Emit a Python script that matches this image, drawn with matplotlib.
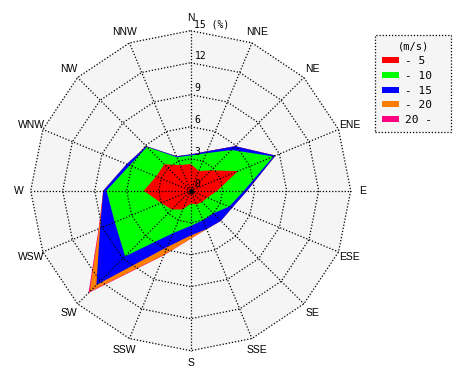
import matplotlib
matplotlib.use("Agg")
import matplotlib.pyplot as plt
from matplotlib.patches import Patch
import numpy as np

# Windrichtungen (im Uhrzeigersinn ab Nord)
directions = ["N", "NNE", "NE", "ENE", "E", "ESE", "SE", "SSE",
              "S", "SSW", "SW", "WSW", "W", "WNW", "NW", "NNW"]

# Haeufigkeit in % je Geschwindigkeitsklasse
speed_5 = [2.5, 2.0, 2.7, 4.8, 2.5, 1.7, 1.5, 1.4, 1.2, 1.9, 2.5, 3.0, 4.4, 3.5, 3.5, 2.6]
speed_10 = [0.8, 1.8, 2.7, 3.6, 2.5, 2.2, 1.5, 1.6, 2.1, 2.4, 6.2, 4.7, 3.5, 2.7, 2.3, 0.8]
speed_15 = [0.1, 0.2, 0.5, 0.2, 0.3, 0.3, 1.0, 0.9, 0.9, 1.4, 3.8, 1.5, 0.3, 0.3, 0.1, 0.1]
speed_20 = [0.0, 0.0, 0.0, 0.0, 0.0, 0.0, 0.0, 0.0, 0.3, 0.8, 0.9, 0.1, 0.0, 0.0, 0.0, 0.0]
speed_20plus = [0.0, 0.0, 0.0, 0.0, 0.0, 0.0, 0.0, 0.0, 0.0, 0.05, 0.15, 0.05, 0.0, 0.0, 0.0, 0.0]

class_labels = ["- 5", "- 10", "- 15", "- 20", "20 -"]
class_colors = ["#ff0000", "#00ff00", "#0000ff", "#ff8000", "#ff0080"]
rings = [3, 6, 9, 12, 15]

# Winkel: Nord oben, im Uhrzeigersinn
ang = np.deg2rad(np.arange(16) * 22.5)
sx = np.sin(ang)
sy = np.cos(ang)

fig = plt.figure(figsize=(4.7, 3.8), dpi=100)
ax = fig.add_axes([0, 0, 1, 1])
scale = 160 / 15.0  # Pixel pro %
cx, cy = 190.7, 190.7
ax.set_xlim(-cx / scale, (470 - cx) / scale)
ax.set_ylim(-(380 - cy) / scale, cy / scale)
ax.axis("off")

# Hintergrund
ax.fill(15 * sx, 15 * sy, color="#f5f5f5", zorder=0)

# Kumulierte Polygone, groesstes zuerst
series = [speed_5, speed_10, speed_15, speed_20, speed_20plus]
cum = np.cumsum(np.array(series), axis=0)
for i in range(len(series) - 1, -1, -1):
    r = cum[i]
    ax.fill(r * sx, r * sy, color=class_colors[i], lw=0, zorder=1 + (5 - i))

# Gitter
grid_style = dict(color="black", lw=0.9, ls=(0, (1, 1.5)), zorder=10)
for r in rings:
    ax.plot(np.append(r * sx, r * sx[0]), np.append(r * sy, r * sy[0]), **grid_style)
for i in range(16):
    ax.plot([0, 15 * sx[i]], [0, 15 * sy[i]], **grid_style)
ax.plot(0, 0, "o", color="black", ms=2.5, zorder=11)

# Richtungsbeschriftung
for i, d in enumerate(directions):
    ax.text(16.15 * sx[i], 16.15 * sy[i], d, ha="center", va="center",
            fontsize=7.5, family="Liberation Sans")

# Skalenbeschriftung
mono = "DejaVu Sans Mono"
ax.text(0.35, 0.15, "0", fontsize=7, family=mono, ha="left", va="bottom", zorder=12)
for r in rings:
    lab = "15 (%)" if r == 15 else str(r)
    ax.text(0.35, r + 0.12, lab, fontsize=7, family=mono, ha="left", va="bottom", zorder=12)

# Legende
handles = [Patch(facecolor=c, edgecolor="none") for c in class_colors]
leg = fig.legend(handles, class_labels, title="(m/s)", loc="upper left",
                 bbox_to_anchor=(375 / 470, 1 - 131 / 380, 76 / 470, 96 / 380),
                 mode="expand",
                 prop={"family": mono, "size": 8}, fancybox=False,
                 handlelength=1.6, handleheight=0.45, handletextpad=0.5,
                 labelspacing=0.42, borderpad=0.6, borderaxespad=0)
leg.get_title().set_fontfamily(mono)
leg.get_title().set_fontsize(7.5)
frame = leg.get_frame()
frame.set_facecolor("#f5f5f5")
frame.set_edgecolor("black")
frame.set_linestyle((0, (1, 1.5)))
frame.set_linewidth(0.9)
frame.set_alpha(1)

plt.savefig("out.png", dpi=100)
